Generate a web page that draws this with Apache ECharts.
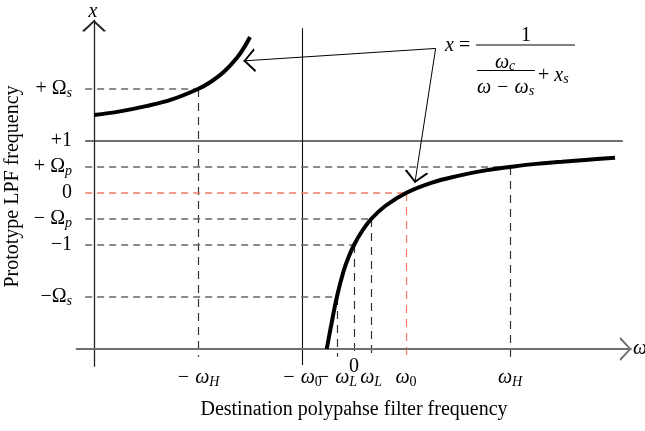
<!DOCTYPE html>
<html><head><meta charset="utf-8">
<script src="https://cdn.jsdelivr.net/npm/echarts@6/dist/echarts.min.js"></script>
<style>html,body{margin:0;padding:0;background:#fff}#c{width:645px;height:431px}</style>
</head><body><div id="c"></div>
<script>
// ---- data (omega in units of omega0, x in LPF units) ----
const leftBranch = [[-5.0,1.50],[-4.5,1.57],[-4.0,1.67],[-3.5,1.80],[-3.0,2.00],[-2.75,2.14],[-2.5,2.33],[-2.25,2.60],[-2.1,2.82],[-2.0,3.0]];
const rightBranch = [[-0.525,-3.0],[-0.43,-2.5],[-0.33,-2.0],[-0.2,-1.5],[-0.1,-1.22],[0,-1.0],[0.15,-0.74],[0.33,-0.5],[0.6,-0.25],[1.0,0],[1.5,0.2],[2.0,0.33],[2.5,0.43],[3.0,0.5],[3.5,0.56],[4.0,0.6],[4.5,0.64],[5.02,0.68]];
const xTickValues = [-3,-1,-0.33,0,0.33,1,3];
const xTickMain = ['− ω','− ω','− ω','0','ω','ω','ω'];
const xTickSub = ['H','0','L','','L','0','H'];
const yTickValues = [2,1,0.5,0,-0.5,-1,-2];
const yTickMain = ['+ Ω','+1','+ Ω','0','− Ω','−1','−Ω'];
const yTickSub = ['s','','p','','p','','s'];
const guideOmega = [-3,3,1,0.33,0,-0.33];
const guideX = [2,0.5,0,-0.5,-1,-2];
const redGuide = 2;
const asymX = 1;        // "+1" level
const asymOmega = -1;   // "-omega0" vertical
const xTitle = 'Destination polypahse filter frequency';
const yTitle = 'Prototype LPF frequency';

const FF = "'Liberation Serif','Times New Roman',serif";
const GREY = '#707070';
const RED = '#f47a66';
const chevron = 'path://M5,-11 L5.01,-11 M0,10 L5,0 L10,10 L9.1,10.7 L5,2.2 L0.9,10.7 Z';

function findIdx(arr, v){ return arr.findIndex(t => Math.abs(t - v) < 1e-6); }
function isDigit(s){ return /^[0-9]+$/.test(s); }

const plainSegs = [];
plainSegs.push({coords:[[-5.17,asymX],[5.17,asymX]], lineStyle:{color:GREY,width:2,type:'solid'}});
plainSegs.push({coords:[[asymOmega,-3.31],[asymOmega,3.17]], lineStyle:{color:'#111',width:1.1,type:'solid'}});
guideOmega.forEach((w,i)=>{
  const red = i===redGuide;
  plainSegs.push({coords:[[-5.17,guideX[i]],[w,guideX[i]]], lineStyle:{color:red?RED:'#666',width:1.6,type:[7,5]}});
  plainSegs.push({coords:[[w,guideX[i]],[w,-3.15]], lineStyle:{color:red?RED:'#333',width:1.2,type:[8,6]}});
});
const arrowSegs = [
  {coords:[[-5,-3.34],[-5,3.33]], lineStyle:{color:'#222',width:1.3}},
  {coords:[[-5.35,-3],[5.34,-3]], lineStyle:{color:GREY,width:2}},
  {coords:[[1.57,2.78],[-2.13,2.54]], lineStyle:{color:'#000',width:1}},
  {coords:[[1.57,2.78],[1.17,0.19]], lineStyle:{color:'#000',width:1}}
];

const chart = echarts.init(document.getElementById('c'), null, {renderer:'canvas'});
chart.setOption({
  animation:false,
  backgroundColor:'#fff',
  grid:{left:94, width:520, top:24, height:325, containLabel:false, outerBoundsMode:'none'},
  xAxis:{type:'value', min:-5, max:5,
    axisLine:{show:false}, axisTick:{show:false}, splitLine:{show:false},
    name:xTitle, nameLocation:'middle', nameGap:51,
    nameTextStyle:{fontFamily:FF, fontSize:20, color:'#000'},
    axisLabel:{customValues:xTickValues, margin:10, color:'#000',
      formatter:(v)=>{ const i=findIdx(xTickValues,v); if(i<0) return '';
        if(!xTickSub[i]) return '{z|'+xTickMain[i]+'}';
        return '{g| }\n{w|'+xTickMain[i]+'}{'+(isDigit(xTickSub[i])?'sd':'s')+'|'+xTickSub[i]+'}'; },
      rich:{
        z:{fontFamily:FF,fontSize:20,lineHeight:16,color:'#000'},
        g:{fontFamily:FF,fontSize:6,lineHeight:8},
        w:{fontFamily:FF,fontStyle:'italic',fontSize:20,lineHeight:22,color:'#000'},
        s:{fontFamily:FF,fontStyle:'italic',fontSize:14,lineHeight:8,verticalAlign:'bottom',color:'#000'},
        sd:{fontFamily:FF,fontSize:14,lineHeight:8,verticalAlign:'bottom',color:'#000'}
      }}
  },
  yAxis:{type:'value', min:-3, max:3.25,
    axisLine:{show:false}, axisTick:{show:false}, splitLine:{show:false},
    name:yTitle, nameLocation:'middle', nameGap:64,
    nameTextStyle:{fontFamily:FF, fontSize:20, color:'#000'},
    axisLabel:{customValues:yTickValues, margin:22, color:'#000',
      formatter:(v)=>{ const i=findIdx(yTickValues,v); if(i<0) return '';
        return '{m|'+yTickMain[i]+'}'+(yTickSub[i]?'{s|'+yTickSub[i]+'}':''); },
      rich:{
        m:{fontFamily:FF,fontSize:20,lineHeight:22,color:'#000'},
        s:{fontFamily:FF,fontStyle:'italic',fontSize:14,lineHeight:8,verticalAlign:'bottom',color:'#000'}
      }}
  },
  series:[
    {type:'lines', coordinateSystem:'cartesian2d', clip:false, z:2, silent:true,
      lineStyle:{opacity:1}, data:plainSegs},
    {type:'lines', coordinateSystem:'cartesian2d', clip:false, z:3, silent:true,
      lineStyle:{opacity:1}, symbol:['none',chevron], symbolSize:[9,24], data:arrowSegs},
    {type:'line', data:leftBranch, symbol:'none', smooth:0.4, clip:false, z:5,
      lineStyle:{color:'#000',width:4}},
    {type:'line', data:rightBranch, symbol:'none', smooth:0.4, clip:false, z:5,
      lineStyle:{color:'#000',width:4}}
  ],
  graphic:[
    {type:'text', x:93, y:12, style:{text:'x', font:'italic 20px '+FF, fill:'#000', align:'center', verticalAlign:'middle'}},
    {type:'text', x:633, y:349, style:{text:'ω', font:'italic 20px '+FF, fill:'#000', align:'left', verticalAlign:'middle'}},
    {type:'text', x:445, y:46, style:{text:'{i|x} =', align:'left', verticalAlign:'middle', font:'20px '+FF, fill:'#000',
      rich:{i:{fontFamily:FF,fontStyle:'italic',fontSize:20}}}},
    {type:'line', shape:{x1:476,y1:45,x2:575,y2:45}, style:{stroke:'#000',lineWidth:1}},
    {type:'text', x:526, y:36, style:{text:'1', align:'center', verticalAlign:'middle', font:'20px '+FF, fill:'#000'}},
    {type:'text', x:495, y:63, style:{text:'{w|ω}{s|c}', align:'left', verticalAlign:'middle', font:'20px '+FF, fill:'#000',
      rich:{w:{fontFamily:FF,fontStyle:'italic',fontSize:20,lineHeight:20},s:{fontFamily:FF,fontStyle:'italic',fontSize:14,lineHeight:8,verticalAlign:'bottom'}}}},
    {type:'line', shape:{x1:477,y1:70.5,x2:535,y2:70.5}, style:{stroke:'#000',lineWidth:1}},
    {type:'text', x:477, y:88, style:{text:'{w|ω − ω}{s|s}', align:'left', verticalAlign:'middle', font:'20px '+FF, fill:'#000',
      rich:{w:{fontFamily:FF,fontStyle:'italic',fontSize:20,lineHeight:20},s:{fontFamily:FF,fontStyle:'italic',fontSize:14,lineHeight:8,verticalAlign:'bottom'}}}},
    {type:'text', x:538, y:76, style:{text:'{p|+ }{w|x}{s|s}', align:'left', verticalAlign:'middle', font:'20px '+FF, fill:'#000',
      rich:{p:{fontFamily:FF,fontSize:20,lineHeight:20},w:{fontFamily:FF,fontStyle:'italic',fontSize:20,lineHeight:20},s:{fontFamily:FF,fontStyle:'italic',fontSize:14,lineHeight:8,verticalAlign:'bottom'}}}}
  ]
});
</script></body></html>
